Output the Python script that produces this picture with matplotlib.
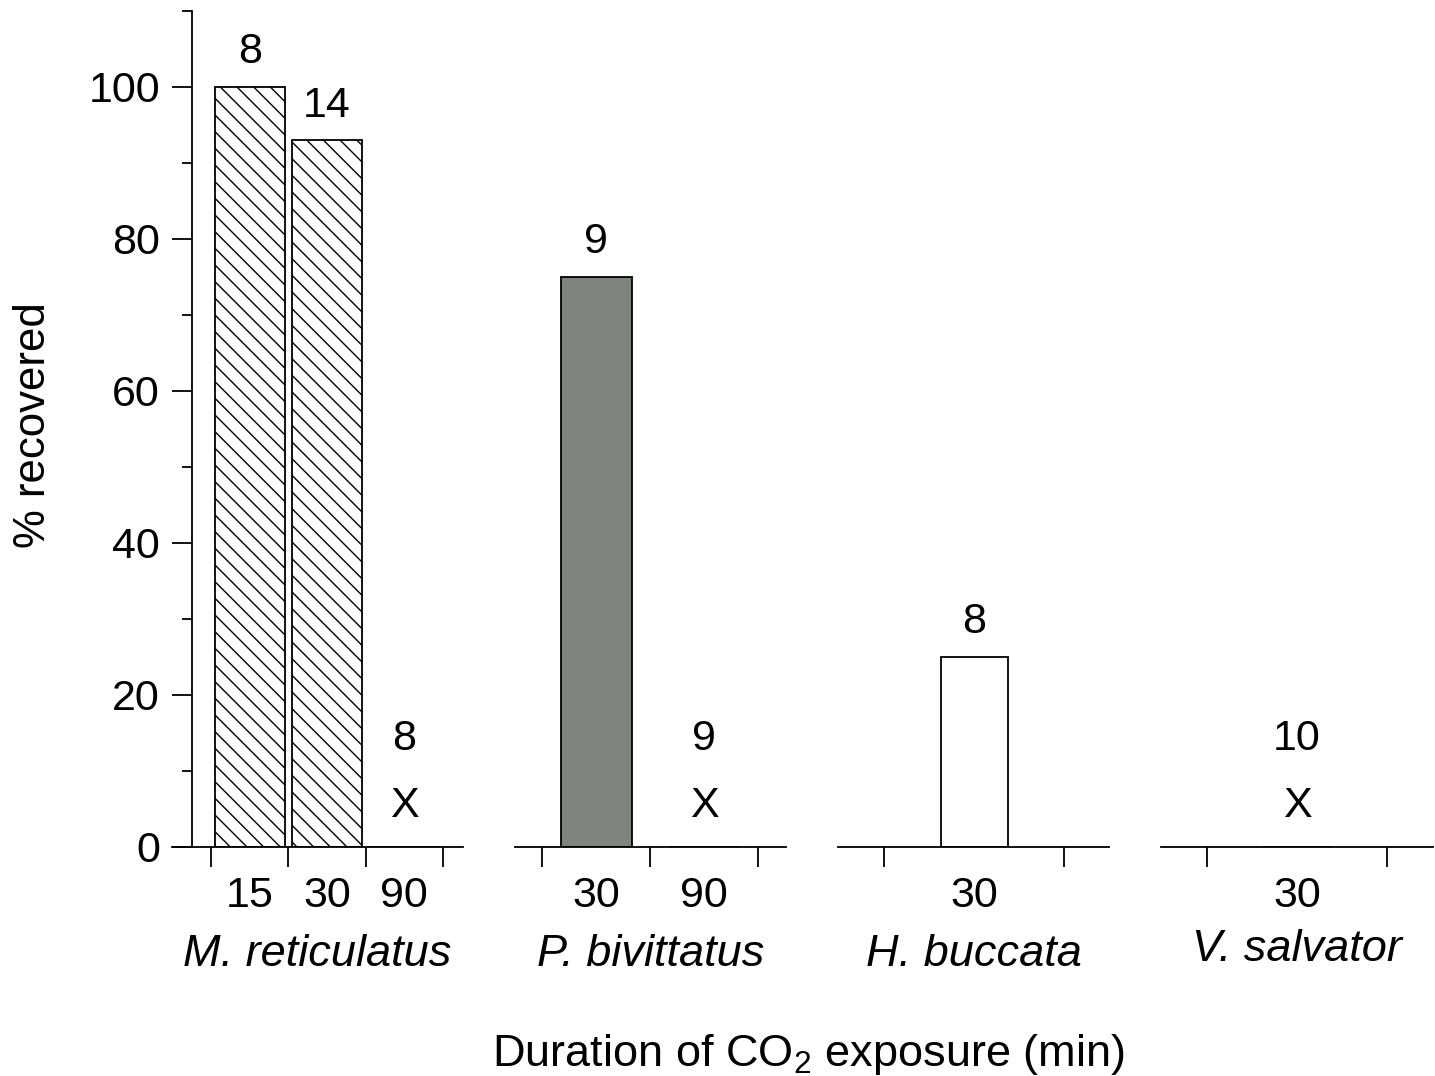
import numpy as np
import matplotlib
matplotlib.use('Agg')
import matplotlib.pyplot as plt
from matplotlib.ticker import FixedLocator

plt.rcParams['font.family'] = ['Liberation Sans', 'DejaVu Sans']
plt.rcParams['mathtext.fontset'] = 'custom'
plt.rcParams['mathtext.rm'] = 'Liberation Sans'
plt.rcParams['mathtext.it'] = 'Liberation Sans:italic'
plt.rcParams['hatch.linewidth'] = 1.0

# data
species = ['M. reticulatus', 'P. bivittatus', 'H. buccata', 'V. salvator']
durations = [['15', '30', '90'], ['30', '90'], ['30'], ['30']]
recovered = [[100, 93, 0], [75, 0], [25], [0]]
n_animals = [[8, 14, 8], [9, 9], [8], [10]]

# bar look per species
face = ['white', '#7f847e', 'white', 'white']
hatch = ['\\\\', None, None, None]

# layout in pixels: axis line start, end, first tick, slot width
W, H = 1435, 1076
base_px, top_px = 847, 11
layout = [(172, 463, 211, 77.3),
          (515, 786, 542, 108),
          (838, 1109, 884, 180),
          (1161, 1433, 1207, 180)]
bar_px = [70, 71, 67, 70]
name_pad = [13, 13, 13, 9]
yspine_px = 192

fs = 31
fs_big = 32.5
lw = 1.3

fig = plt.figure(figsize=(W / 100, H / 100), dpi=100)

for g, name in enumerate(species):
    x0, x1, t0, slot = layout[g]
    ax = fig.add_axes([x0 / W, (H - base_px) / H, (x1 - x0) / W,
                       (base_px - top_px) / H])
    ax.patch.set_alpha(0)
    n = len(durations[g])
    pos = np.arange(n)
    ax.set_xlim(-0.5 - (t0 - x0) / slot, -0.5 + (x1 - t0) / slot)
    ax.set_ylim(0, 110)

    vals = recovered[g]
    ax.bar(pos, vals, width=bar_px[g] / slot, color=face[g],
           edgecolor='black', linewidth=lw, hatch=hatch[g], zorder=2)

    # sample size above each bar, X where nothing recovered
    for p, v, c in zip(pos, vals, n_animals[g]):
        if v == 0:
            ax.text(p, 4, 'X', ha='center', va='baseline', fontsize=fs)
            ax.text(p, 12.7, str(c), ha='center', va='baseline', fontsize=fs)
        else:
            ax.text(p, v + 3.1, str(c), ha='center', va='baseline', fontsize=fs)

    for s in ['top', 'right']:
        ax.spines[s].set_visible(False)
    ax.spines['bottom'].set_linewidth(lw)

    ax.set_xticks(pos)
    ax.set_xticklabels(durations[g], fontsize=fs)
    ax.xaxis.set_minor_locator(FixedLocator(np.arange(n + 1) - 0.5))
    ax.tick_params(axis='x', which='major', length=0, pad=21)
    ax.tick_params(axis='x', which='minor', length=14.4, width=lw,
                   direction='out')
    ax.set_xlabel(name, fontsize=fs_big, style='italic', labelpad=name_pad[g])

    if g == 0:
        ax.spines['left'].set_position(('data', -0.5 - (t0 - yspine_px) / slot))
        ax.spines['left'].set_linewidth(lw)
        ax.set_yticks(np.arange(0, 101, 20))
        ax.yaxis.set_minor_locator(FixedLocator(np.arange(10, 111, 20)))
        ax.tick_params(axis='y', which='major', length=14.4, width=lw,
                       labelsize=fs, pad=8.6)
        ax.tick_params(axis='y', which='minor', length=7.2, width=lw)
    else:
        ax.spines['left'].set_visible(False)
        ax.set_yticks([])

fig.text(34 / W, 1 - 425 / H, '% recovered', rotation=90, ha='center',
         va='center', fontsize=31.5)
fig.text(808 / W, (H - 1066) / H, 'Duration of CO$_2$ exposure (min)',
         ha='center', va='baseline', fontsize=fs_big)

fig.savefig('out.png', dpi=100)
